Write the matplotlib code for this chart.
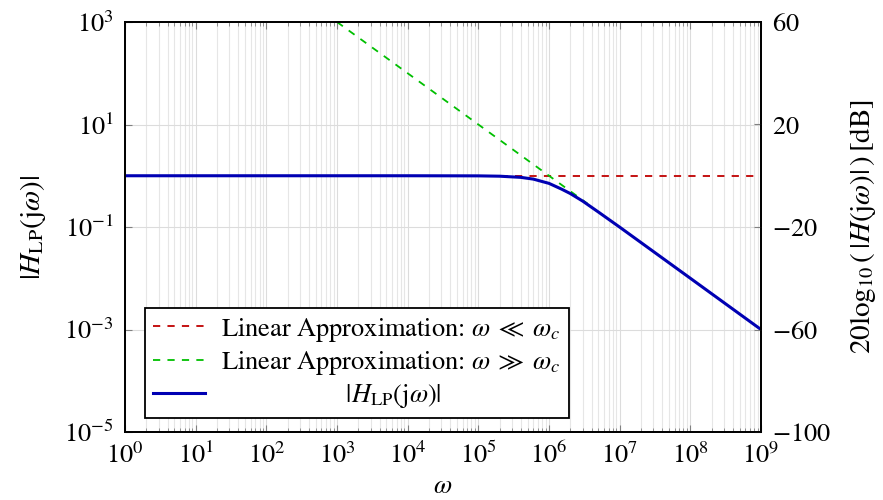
import matplotlib
matplotlib.use("Agg")
import matplotlib.pyplot as plt
from matplotlib.ticker import LogLocator, NullFormatter, NullLocator

plt.rcParams["font.family"] = "serif"
plt.rcParams["font.serif"] = ["STIXGeneral", "DejaVu Serif"]
plt.rcParams["mathtext.fontset"] = "stix"
plt.rcParams["font.size"] = 19

# values
omega = [1e0, 1e4, 1e5, 2e5, 4e5, 6e5, 1e6, 1.5e6, 2e6, 3e6, 5e6, 1e7, 1e8, 1e9]
h_lp = [1.0, 1.0, 0.995, 0.98, 0.93, 0.86, 0.71, 0.55, 0.45, 0.32, 0.196, 0.0995, 0.01, 0.001]

low_w = [1e0, 1e9]
low_h = [1.0, 1.0]

high_w = [1e3, 3.5e6]
high_h = [1e3, 2.86e-1]

left_ticks = [1e-5, 1e-3, 1e-1, 1e1, 1e3]
db_ticks = [-100, -60, -20, 20, 60]

fig = plt.figure(figsize=(8.83, 5), dpi=100)
ax = fig.add_axes([0.1416, 0.136, 0.7202, 0.82])

ax.plot(low_w, low_h, linestyle="--", color="#bf0000", lw=1.3, dashes=(4, 4),
        label=r"Linear Approximation: $\omega\;\ll\;\omega_c$")
ax.plot(high_w, high_h, linestyle="--", color="#00bf00", lw=1.3, dashes=(4, 4),
        label=r"Linear Approximation: $\omega\;\gg\;\omega_c$")
ax.plot(omega, h_lp, color="#0000b3", lw=2.2,
        label=r"$\qquad\qquad\qquad\;\;|H_{\mathrm{LP}}(\mathrm{j}\omega)|$")

ax.set_xscale("log")
ax.set_yscale("log")
ax.set_xlim(1e0, 1e9)
ax.set_ylim(1e-5, 1e3)
ax.set_yticks(left_ticks)
ax.yaxis.set_minor_locator(NullLocator())
ax.yaxis.set_minor_formatter(NullFormatter())
ax.xaxis.set_major_locator(LogLocator(base=10, numticks=20))
ax.xaxis.set_minor_locator(LogLocator(base=10, subs=range(2, 10), numticks=20))
ax.xaxis.set_minor_formatter(NullFormatter())

ax.grid(True, which="major", color="#dcdcdc", lw=0.8)
ax.grid(True, which="minor", axis="x", color="#e6e6e6", lw=0.8)
ax.set_axisbelow(True)

ax.tick_params(which="major", direction="in", length=5, color="#808080", top=True, right=False)
ax.tick_params(which="minor", direction="in", length=3, color="#808080", top=True, right=False)
ax.tick_params(axis="x", which="major", pad=8)
ax.tick_params(axis="y", which="major", pad=8)
for s in ax.spines.values():
    s.set_linewidth(1.3)

ax.set_xlabel(r"$\omega$", labelpad=4)
ax.set_ylabel(r"$|H_{\mathrm{LP}}(\mathrm{j}\omega)|$", labelpad=12, fontsize=21)

ax2 = ax.twinx()
ax2.set_ylim(-100, 60)
ax2.set_yticks(db_ticks)
ax2.set_yticklabels([f"${v}$" for v in db_ticks])
ax2.tick_params(direction="in", length=5, color="#808080", pad=8)
ax2.set_ylabel(r"$20\log_{10}(\,|H(\mathrm{j}\omega)|\,)\,[\mathrm{dB}]$", labelpad=12, fontsize=21)
for s in ax2.spines.values():
    s.set_linewidth(1.3)

leg = ax.legend(loc="lower left", bbox_to_anchor=(0.031, 0.034), fancybox=False,
                edgecolor="black", framealpha=1, borderaxespad=0, handlelength=2.0,
                labelspacing=0.2, borderpad=0.3, handletextpad=0.6)
leg.get_frame().set_linewidth(1.3)
leg.set_zorder(10)

fig.savefig("out.png", dpi=100)
plt.close(fig)
